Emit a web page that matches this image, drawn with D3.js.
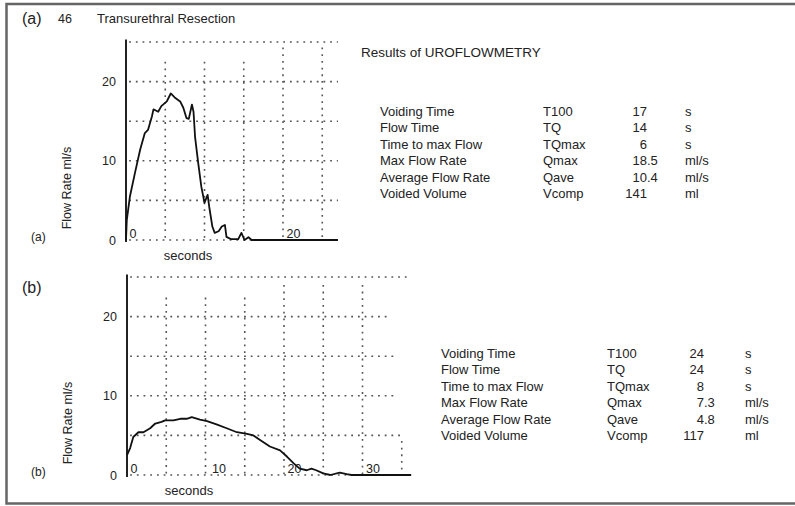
<!DOCTYPE html>
<html>
<head>
<meta charset="utf-8">
<script src="https://cdn.jsdelivr.net/npm/d3@7"></script>
<style>
  body { margin: 0; background: #fff; }
  svg { font-family: "Liberation Sans", Arial, Helvetica, sans-serif; fill: #222; }
</style>
</head>
<body>
<div id="chart"></div>
<script>
// flow curve (a), seconds and ml/s
var timeA = [0, 0.1, 0.5, 1.15, 1.8, 2.4, 2.8, 3.3, 3.5, 4.1, 4.5, 5.2, 5.7, 6.2, 6.9, 7.3, 7.7, 8.0, 8.4, 8.6, 8.8, 9.2, 9.6, 10.0, 10.4, 10.6, 11.0, 11.3, 11.8, 12.2, 12.6, 12.8, 13.4, 14.3, 14.7, 15.1, 15.6, 16.0, 16.4, 17.0, 27.0];
var flowA = [0, 2.5, 5.5, 8.5, 11.4, 13.5, 13.9, 15.6, 16.5, 16.2, 16.9, 17.5, 18.5, 18.0, 17.5, 16.7, 15.4, 15.3, 17.1, 16.2, 13.0, 9.7, 6.7, 4.7, 5.7, 4.2, 1.7, 0.9, 1.1, 1.7, 1.9, 0.4, 0.1, 0.1, 0.9, 0, 0.35, 0, 0, 0, 0];

// flow curve (b)
var timeB = [0, 0.4, 0.8, 1.45, 2.1, 2.95, 3.6, 4.4, 4.85, 5.9, 6.8, 7.6, 8.25, 9.3, 10.2, 11.4, 12.7, 14.0, 15.3, 16.1, 17.0, 18.2, 19.5, 20.4, 21.2, 22.0, 22.9, 23.5, 24.1, 25.0, 25.9, 27.1, 28.0, 28.6, 36.2];
var flowB = [2.5, 3.4, 4.8, 5.4, 5.4, 5.9, 6.5, 6.7, 6.9, 6.9, 7.1, 7.1, 7.3, 7.0, 6.8, 6.4, 5.9, 5.4, 5.2, 5.0, 4.4, 3.6, 3.1, 2.3, 1.5, 0.8, 0.6, 0.8, 0.6, 0.2, 0, 0.3, 0.1, 0, 0];

// results tables
var resultLabels = ["Voiding Time", "Flow Time", "Time to max Flow", "Max Flow Rate", "Average Flow Rate", "Voided Volume"];
var resultSymbols = ["T100", "TQ", "TQmax", "Qmax", "Qave", "Vcomp"];
var resultUnits = ["s", "s", "s", "ml/s", "ml/s", "ml"];
var valuesA = ["17", "14", "6", "18.5", "10.4", "141"];
var valuesB = ["24", "24", "8", "7.3", "4.8", "117"];

var yTicks = [0, 10, 20];
var yGrid = [0, 5, 10, 15, 20, 25];
var xTicksA = [0, 20];
var xTicksB = [0, 10, 20, 30];

var svg = d3.select("#chart").append("svg")
  .attr("width", 795)
  .attr("height", 506);

// outer frame
svg.append("path")
  .attr("d", "M795,4 H6.5 V503.5 H795")
  .attr("fill", "none")
  .attr("stroke", "#666")
  .attr("stroke-width", 2.5);

function drawPanel(opt) {
  var x = d3.scaleLinear().domain([0, opt.tMax]).range([opt.left, opt.left + opt.tMax * 7.85]);
  var y = d3.scaleLinear().domain([0, 25]).range([opt.bottom, opt.bottom - 198]);
  var g = svg.append("g");

  // dotted grid
  yGrid.forEach(function (q) {
    g.append("line")
      .attr("x1", x(0.4)).attr("x2", x(opt.hEnd(q)))
      .attr("y1", y(q)).attr("y2", y(q))
      .attr("stroke", "#555").attr("stroke-width", 1.6)
      .attr("stroke-dasharray", "1.8,4.9");
  });
  d3.range(5, opt.tMax, 5).forEach(function (t) {
    var top = opt.vTop(t);
    g.append("line")
      .attr("x1", x(t)).attr("x2", x(t))
      .attr("y1", y(top[1])).attr("y2", y(top[0]))
      .attr("stroke", "#555").attr("stroke-width", 1.6)
      .attr("stroke-dasharray", "1.8,4.9");
  });

  // y axis
  var yAxis = g.append("g")
    .attr("transform", "translate(" + opt.left + ",0)")
    .call(d3.axisLeft(y).tickValues(yTicks).tickSize(0).tickPadding(10).tickFormat(d3.format("d")));
  yAxis.select(".domain")
    .attr("d", "M0," + (y(25.3)) + "V" + (y(-0.25)))
    .attr("stroke", "#222").attr("stroke-width", 2);
  yAxis.selectAll("text")
    .attr("font-size", 12.5).attr("fill", "#222").attr("font-family", null);

  // x tick labels sit inside the plot above the baseline
  var xAxis = g.append("g")
    .attr("transform", "translate(0," + opt.bottom + ")")
    .call(d3.axisBottom(x).tickValues(opt.xTicks).tickSize(0).tickFormat(d3.format("d")));
  xAxis.select(".domain").remove();
  xAxis.selectAll("text")
    .attr("y", -2).attr("dy", null)
    .attr("dx", function (d) { return d === 10 ? 6 : 3; })
    .attr("text-anchor", "start")
    .attr("font-size", 12.5).attr("fill", "#222").attr("font-family", null);

  // flow trace
  var line = d3.line()
    .x(function (d) { return x(d[0]); })
    .y(function (d) { return y(d[1]); });
  g.append("path")
    .datum(d3.zip(opt.time, opt.flow))
    .attr("fill", "none")
    .attr("stroke", "#111")
    .attr("stroke-width", 1.8)
    .attr("stroke-linejoin", "round")
    .attr("d", line);

  // labels
  g.append("text")
    .attr("transform", "translate(" + (opt.left - 55) + "," + (opt.bottom - 52) + ") rotate(-90)")
    .attr("text-anchor", "middle")
    .attr("font-size", 12.5)
    .text("Flow Rate ml/s");
  g.append("text")
    .attr("x", opt.left + 62).attr("y", opt.bottom + 20)
    .attr("text-anchor", "middle")
    .attr("font-size", 13)
    .text("seconds");
  g.append("text")
    .attr("x", 31).attr("y", opt.bottom + 1)
    .attr("font-size", 12)
    .text(opt.tag);
}

drawPanel({
  left: 126, bottom: 240, tMax: 27, time: timeA, flow: flowA, xTicks: xTicksA, tag: "(a)",
  hEnd: function (q) { return 27; },
  vTop: function (t) { return [0, t < 20 ? 22.5 : 24.3]; }
});
drawPanel({
  left: 127, bottom: 475, tMax: 36.2, time: timeB, flow: flowB, xTicks: xTicksB, tag: "(b)",
  hEnd: function (q) { return q === 25 || q === 0 ? 36.2 : (q === 5 ? 35 : (q === 20 ? 33.2 : 34)); },
  vTop: function (t) { return t === 35 ? [0, 4.3] : [0, t < 20 ? 22.4 : 24]; }
});

// headers
svg.append("text").attr("x", 22).attr("y", 24).attr("font-size", 16).text("(a)");
svg.append("text").attr("x", 58).attr("y", 23).attr("font-size", 12.5).text("46");
svg.append("text").attr("x", 97).attr("y", 23).attr("font-size", 13).text("Transurethral Resection");
svg.append("text").attr("x", 22).attr("y", 293).attr("font-size", 16).text("(b)");
svg.append("text").attr("x", 361).attr("y", 57).attr("font-size", 13.5).text("Results of UROFLOWMETRY");

// results tables, values aligned on the decimal point
function drawTable(values, x0, xSym, xVal, xUnit, y0) {
  var rows = svg.append("g").selectAll("g")
    .data(resultLabels)
    .join("g")
    .attr("transform", function (d, i) { return "translate(0," + (y0 + i * 16.5) + ")"; })
    .attr("font-size", 13);
  rows.append("text").attr("x", x0).text(function (d) { return d; });
  rows.append("text").attr("x", xSym).text(function (d, i) { return resultSymbols[i]; });
  rows.append("text").attr("x", xVal).attr("text-anchor", "end")
    .text(function (d, i) { return values[i].split(".")[0]; });
  rows.append("text").attr("x", xVal)
    .text(function (d, i) { var p = values[i].split("."); return p.length > 1 ? "." + p[1] : ""; });
  rows.append("text").attr("x", xUnit).text(function (d, i) { return resultUnits[i]; });
}
drawTable(valuesA, 380, 543, 647, 685, 115.5);
drawTable(valuesB, 441, 607, 704, 745, 357.5);
</script>
</body>
</html>
